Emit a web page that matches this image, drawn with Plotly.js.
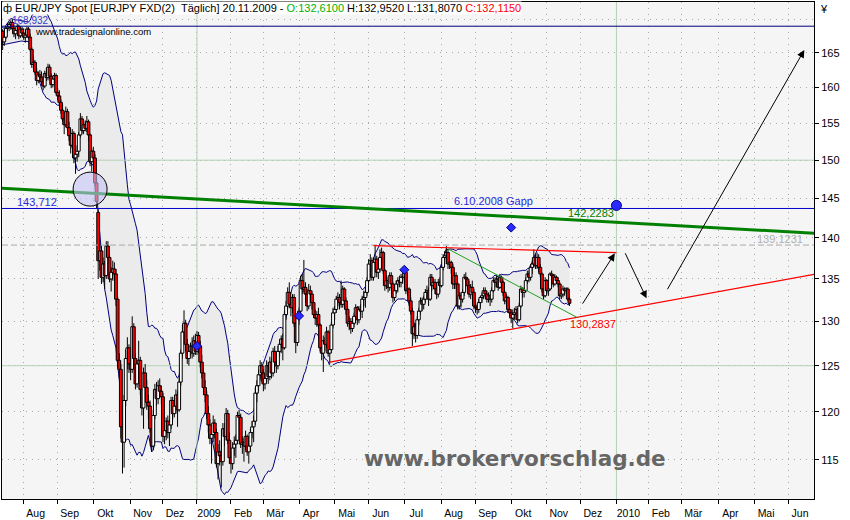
<!DOCTYPE html>
<html><head><meta charset="utf-8">
<script src="https://cdn.plot.ly/plotly-3.0.1.min.js"></script>
<style>html,body{margin:0;padding:0;background:#fff}#chart{width:850px;height:520px}</style>
</head><body><div id="chart"></div>
<script>
// ---------- DATA ----------
const firstDay = '2008-07-11';
const lastCalendarDay = '2010-07-31';
const holidays = ['2008-12-25','2008-12-26','2009-01-01','2009-12-25','2010-01-01'];

const opens = [
167.2,
167.6,168.2,166.6,167.3,168.6,
168.8,169.2,169.5,168.6,167.8,
168.3,168.9,167.5,168.5,167.9,
167.3,167.6,168.5,167.3,165.5,
163.3,163.6,162.2,161.0,161.8,
161.5,160.8,160.2,162.0,161.4,
162.9,161.6,160.4,161.2,161.7,
159.3,158.8,157.9,156.8,155.6,
154.8,156.6,154.4,153.3,152.0,
153.6,150.3,150.8,151.2,153.4,
155.6,154.0,154.8,154.3,155.2,
153.4,149.8,151.2,150.3,147.0,
143.2,137.2,138.4,135.2,136.8,
135.4,139.0,137.6,135.0,135.8,
136.2,135.6,132.6,125.6,124.6,
118.4,116.8,121.2,125.8,127.0,
125.2,124.6,129.4,125.8,123.0,
125.2,125.6,122.4,120.4,124.2,
122.6,121.0,120.6,118.2,116.4,
119.6,122.4,121.4,122.8,122.2,
121.6,117.4,118.0,119.0,117.8,
118.6,121.2,119.8,120.6,121.8,
120.2,123.2,126.4,128.8,129.8,
127.4,125.8,126.6,
127.2,126.4,127.8,126.6,
128.4,127.2,125.4,124.2,122.6,
121.8,119.8,118.6,117.2,117.6,
118.8,117.8,114.6,115.8,115.4,
114.8,118.2,117.4,119.8,117.0,
115.2,114.6,116.2,116.6,117.0,
119.6,119.4,116.6,116.8,116.4,
117.4,115.8,116.4,117.8,118.4,
119.0,122.0,122.8,124.0,125.0,
124.2,123.0,123.6,125.0,123.8,
125.4,124.2,126.6,125.4,125.0,
126.6,127.4,128.0,127.0,130.8,
131.8,133.4,132.0,131.6,132.8,
129.8,127.6,130.4,131.2,134.8,
133.8,134.0,133.2,131.8,133.6,
133.2,132.2,130.8,130.4,130.8,
129.6,127.0,126.4,127.8,127.4,
128.8,126.4,126.8,129.6,131.0,
131.4,132.6,132.8,132.2,132.0,
133.8,132.4,131.4,129.8,130.0,
129.2,129.8,130.6,131.6,130.2,
131.4,131.2,132.6,132.8,133.4,
134.8,136.8,137.2,135.2,137.0,
137.4,135.8,136.2,137.6,138.2,
136.0,134.2,134.8,134.0,135.4,
134.4,132.8,133.6,134.4,134.8,
134.6,135.2,135.2,135.8,133.6,
133.8,132.4,131.2,128.6,129.4,
128.4,130.2,131.2,132.4,132.0,
132.6,133.4,133.6,132.6,135.2,
134.2,134.6,133.8,133.2,134.6,
134.2,136.4,137.6,137.8,138.2,
136.8,137.0,136.4,134.4,135.4,
134.4,131.8,133.0,132.6,133.4,
135.2,135.0,134.2,133.2,134.0,
133.4,131.8,131.6,131.4,132.2,
132.8,133.0,133.6,133.2,132.6,
133.0,132.6,133.6,134.8,134.6,
135.0,134.0,135.2,134.6,133.4,
132.4,132.8,131.4,131.0,130.4,
130.8,131.0,131.4,130.2,131.8,
133.8,133.4,133.6,134.8,135.6,
135.2,136.4,136.8,137.6,136.6,
137.6,136.4,135.6,133.8,133.0,
134.8,133.6,133.8,135.6,135.4,
134.4,135.2,134.8,134.4,133.0,
133.2,133.8,133.6,133.8,132.61
];
const highs = [
168.3,
168.6,168.5,167.8,168.9,169.4,
169.6,169.8,170.0,169.0,168.5,
169.3,169.2,168.8,168.9,168.6,
168.0,168.9,168.8,167.8,165.8,
164.4,163.9,162.8,162.3,162.5,
162.3,161.5,162.4,162.8,163.4,
163.3,162.0,161.6,162.1,162.0,
159.9,159.6,158.3,157.6,156.4,
157.3,157.0,155.2,153.9,154.2,
153.9,151.6,152.0,153.8,156.4,
156.0,155.3,155.4,156.0,155.5,
153.6,151.6,151.8,150.8,148.0,
143.6,139.3,139.0,137.6,137.2,
139.6,139.6,138.0,136.4,137.2,
137.0,136.2,133.0,126.4,125.2,
119.4,121.8,126.8,128.2,127.4,
126.2,130.6,129.8,126.4,125.6,
127.8,126.0,123.0,124.8,125.2,
123.4,121.8,121.2,118.6,120.2,
123.0,123.2,123.4,123.6,122.8,
122.0,118.6,119.4,119.6,119.2,
121.6,121.6,121.0,122.4,122.2,
123.6,126.8,129.6,131.3,130.2,
128.0,127.2,127.6,
128.2,128.4,128.6,128.9,
128.8,127.8,126.2,124.8,123.4,
122.2,120.6,119.2,118.4,119.6,
119.2,118.2,116.6,117.0,116.0,
118.8,118.8,120.4,120.2,117.8,
115.8,116.8,117.4,117.6,120.0,
120.2,119.8,117.4,117.2,118.0,
117.6,117.0,118.2,119.0,119.6,
122.6,123.4,124.6,125.6,125.4,
124.6,124.2,125.6,125.4,126.0,
125.8,127.0,127.2,126.0,127.2,
128.0,128.4,128.6,131.2,132.4,
134.0,134.6,132.8,133.2,133.2,
130.2,130.8,131.6,135.4,135.6,
137.3,134.6,133.8,134.4,134.2,
133.6,132.8,131.4,131.2,131.6,
129.8,127.8,128.4,128.2,129.4,
129.0,127.2,130.0,131.6,131.8,
133.0,133.4,133.2,134.8,134.2,
134.0,132.8,131.8,130.6,130.4,
130.4,131.0,132.0,131.8,131.8,
132.0,133.0,133.6,134.0,135.2,
137.4,138.0,137.6,137.6,139.0,
137.8,136.8,138.6,138.8,138.4,
136.2,135.4,135.2,135.8,135.8,
134.6,134.0,134.8,135.2,135.4,
135.6,136.0,136.2,136.0,134.4,
134.0,132.8,131.6,129.8,129.8,
130.6,131.6,132.8,132.8,133.0,
133.8,134.2,134.0,135.6,135.6,
135.0,135.0,134.2,135.0,135.2,
136.8,138.0,138.4,139.0,138.6,
137.4,137.2,136.8,135.8,135.8,
134.6,133.4,133.4,133.8,135.6,
135.8,135.2,134.8,134.4,134.8,
133.8,132.6,132.0,132.6,133.0,
133.4,134.0,134.0,133.6,133.4,
133.2,134.0,135.2,135.2,135.4,
135.2,135.6,135.4,134.8,133.6,
133.2,133.0,131.8,131.4,131.4,
131.6,131.8,131.6,132.2,134.2,
134.0,134.0,135.2,136.0,136.0,
136.8,137.2,138.6,138.0,138.2,
138.0,136.8,135.8,134.4,135.2,
135.0,134.2,135.8,136.0,135.6,
135.6,135.4,135.2,134.6,133.8,
134.2,134.0,134.0,134.0,132.952
];
const lows = [
166.4,
167.0,165.4,166.0,167.0,168.0,
168.2,168.4,168.3,167.3,167.0,
167.8,167.0,167.2,167.6,166.9,
166.5,167.2,167.0,165.2,162.8,
162.6,161.8,160.3,160.6,161.0,
160.4,159.6,159.9,160.9,161.0,
161.2,159.9,160.0,160.6,159.0,
158.2,157.4,156.3,155.2,153.5,
154.5,154.0,152.6,150.9,151.6,
149.6,148.2,149.8,150.4,153.0,
153.6,153.5,153.9,153.8,152.6,
149.2,148.5,149.9,146.5,143.71,
135.0,136.0,134.4,134.6,133.8,
135.0,136.8,134.6,133.5,134.8,
134.8,131.8,124.8,123.6,117.2,
113.6,114.2,120.6,124.6,124.2,
123.4,124.2,125.0,122.4,122.6,
124.6,121.8,119.6,118.2,121.8,
120.2,119.2,117.8,115.8,116.0,
119.2,120.6,120.8,121.6,120.8,
116.8,116.6,117.0,117.2,116.4,
118.2,119.2,119.4,119.8,118.4,
120.0,122.8,125.8,127.6,126.6,
125.2,125.0,126.0,
125.8,126.0,126.2,126.2,
126.4,124.8,123.6,121.8,121.0,
119.2,117.8,116.6,114.6,116.8,
117.2,114.2,113.0,114.4,112.2,
114.4,116.4,117.0,116.6,114.6,
113.6,114.0,115.4,115.2,116.6,
118.6,116.2,115.6,114.8,116.0,
115.4,114.6,115.8,117.2,116.8,
118.6,121.0,122.2,123.4,123.2,
122.2,122.4,123.2,123.0,123.4,
123.6,123.8,124.8,124.2,124.6,
126.0,126.4,125.6,126.8,130.2,
131.4,131.6,130.6,131.0,129.4,
126.4,127.2,129.6,131.0,133.2,
133.4,132.2,131.2,131.4,132.4,
131.4,130.4,129.6,129.4,129.2,
126.6,125.6,124.3,126.6,127.0,
126.0,125.2,126.4,129.2,130.2,
131.0,131.8,131.4,131.6,131.6,
131.8,130.8,129.4,129.0,128.6,
128.8,129.4,130.2,129.6,129.8,
130.8,130.4,131.8,131.6,133.0,
134.6,135.8,134.8,134.8,136.2,
135.2,135.0,135.8,137.0,135.6,
133.6,133.8,133.4,133.6,133.8,
132.2,132.4,133.2,133.4,134.0,
134.0,134.4,134.8,133.2,133.0,
131.8,130.8,127.2,128.0,127.6,
128.0,129.6,130.8,131.2,131.4,
132.2,132.6,131.8,132.4,133.6,
133.8,133.2,132.6,132.8,133.4,
134.0,136.0,136.8,137.2,136.2,
136.2,135.6,133.8,133.8,133.8,
131.4,131.4,131.6,132.2,133.0,
134.6,133.8,132.8,132.6,133.0,
131.4,131.0,130.8,131.0,131.6,
132.2,132.6,132.8,132.2,132.2,
131.8,132.2,133.4,134.0,134.0,
133.6,133.8,134.2,133.0,132.0,
132.0,131.0,130.6,129.8,129.2,
130.2,130.2,129.8,130.0,131.6,
132.8,132.8,133.4,134.4,134.6,
134.8,135.6,136.4,136.2,136.2,
135.8,135.2,133.4,132.6,132.8,
133.2,133.0,133.6,134.8,134.0,
134.2,134.4,134.0,132.6,132.6,
132.8,133.0,133.2,132.4,131.807
];
const closes = [
167.6,
168.2,166.6,167.3,168.6,168.8,
169.2,169.5,168.6,167.8,168.3,
168.9,167.5,168.5,167.9,167.3,
167.6,168.5,167.3,165.5,163.3,
163.6,162.2,161.0,161.8,161.5,
160.8,160.2,162.0,161.4,162.9,
161.6,160.4,161.2,161.7,159.3,
158.8,157.9,156.8,155.6,154.8,
156.6,154.4,153.3,152.0,153.6,
150.3,150.8,151.2,153.4,155.6,
154.0,154.8,154.3,155.2,153.4,
149.8,151.2,150.3,147.0,144.6,
137.2,138.4,135.2,136.8,135.4,
139.0,137.6,135.0,135.8,136.2,
135.6,132.6,125.6,124.6,118.4,
116.8,121.2,125.8,127.0,125.2,
124.6,129.4,125.8,123.0,125.2,
125.6,122.4,120.4,124.2,122.6,
121.0,120.6,118.2,116.4,119.6,
122.4,121.4,122.8,122.2,121.6,
117.4,118.0,119.0,117.8,118.6,
121.2,119.8,120.6,121.8,120.2,
123.2,126.4,128.8,129.8,127.4,
125.8,126.6,127.2,
126.4,127.8,126.6,128.4,
127.2,125.4,124.2,122.6,121.8,
119.8,118.6,117.2,117.6,118.8,
117.8,114.6,115.8,115.4,114.8,
118.2,117.4,119.8,117.0,115.2,
114.6,116.2,116.6,117.0,119.6,
119.4,116.6,116.8,116.4,117.4,
115.8,116.4,117.8,118.4,119.0,
122.0,122.8,124.0,125.0,124.2,
123.0,123.6,125.0,123.8,125.4,
124.2,126.6,125.4,125.0,126.6,
127.4,128.0,127.0,130.8,131.8,
133.4,132.0,131.6,132.8,129.8,
127.6,130.4,131.2,134.8,133.8,
134.0,133.2,131.8,133.6,133.2,
132.2,130.8,130.4,130.8,129.6,
127.0,126.4,127.8,127.4,128.8,
126.4,126.8,129.6,131.0,131.4,
132.6,132.8,132.2,132.0,133.8,
132.4,131.4,129.8,130.0,129.2,
129.8,130.6,131.6,130.2,131.4,
131.2,132.6,132.8,133.4,134.8,
136.8,137.2,135.2,137.0,137.4,
135.8,136.2,137.6,138.2,136.0,
134.2,134.8,134.0,135.4,134.4,
132.8,133.6,134.4,134.8,134.6,
135.2,135.2,135.8,133.6,133.8,
132.4,131.2,128.6,129.4,128.4,
130.2,131.2,132.4,132.0,132.6,
133.4,133.6,132.6,135.2,134.2,
134.6,133.8,133.2,134.6,134.2,
136.4,137.6,137.8,138.2,136.8,
137.0,136.4,134.4,135.4,134.4,
131.8,133.0,132.6,133.4,135.2,
135.0,134.2,133.2,134.0,133.4,
131.8,131.6,131.4,132.2,132.8,
133.0,133.6,133.2,132.6,133.0,
132.6,133.6,134.8,134.6,135.0,
134.0,135.2,134.6,133.4,132.4,
132.8,131.4,131.0,130.4,130.8,
131.0,131.4,130.2,131.8,133.8,
133.4,133.6,134.8,135.6,135.2,
136.4,136.8,137.6,136.6,137.6,
136.4,135.6,133.8,133.0,134.8,
133.6,133.8,135.6,135.4,134.4,
135.2,134.8,134.4,133.0,133.2,
133.8,133.6,133.8,132.61,132.115
];

// axis ticks
const monthTickDates = ['2008-08-01','2008-09-01','2008-10-01','2008-11-03','2008-12-01','2009-01-02','2009-02-02','2009-03-02','2009-04-01','2009-05-01','2009-06-01','2009-07-01','2009-08-03','2009-09-01','2009-10-01','2009-11-02','2009-12-01','2010-01-04','2010-02-01','2010-03-01','2010-04-01','2010-05-03','2010-06-01'];
const monthTickLabels = ['Aug','Sep','Okt','Nov','Dez','2009','Feb','Mär','Apr','Mai','Jun','Jul','Aug','Sep','Okt','Nov','Dez','2010','Feb','Mär','Apr','Mai','Jun'];
const priceTicks = [115,120,125,130,135,140,145,150,155,160,165];
const yearLineDates = ['2009-01-02','2010-01-04'];
const solidPriceLines = [125,150];
const viewStart = '2008-07-14 14:24', viewEnd = '2010-06-23';

// drawn lines / markers
const topLevel = 168.932, gapLevel = 143.712, dashLevel = 139.1231;
const longTrendX = [viewStart, viewEnd], longTrendY = [146.3, 140.6];
const resistX = ['2009-06-04','2010-01-04'], resistY = [139.05, 138.2];
const supportX = ['2009-04-28', viewEnd], supportY = [125.4, 135.55];
const downX = ['2009-08-07','2009-11-26 10:00'], downY = [138.65, 130.5];
const pivotX = ['2009-01-02','2009-04-01','2009-07-01','2009-10-01'], pivotY = [127.2,130.65,136.1,141.3];
const bigPivotX = ['2010-01-04'], bigPivotY = [144.1];
const circleX = ['2008-09-29'], circleY = [146.2];
const arrowTailX = ['2009-12-01 12:00','2010-01-11','2010-02-16'], arrowTailY = [131.9,138.3,133.6];
const arrowHeadX = ['2009-12-31','2010-01-28 14:00','2010-06-15'], arrowHeadY = [138.1,132.7,165.4];

// ---------- BUILD ----------
// trading-day calendar: one slot per weekday (holidays skipped), like the bar axis of the original
const calendar = [];
(function(){
  let t = Date.parse(firstDay + 'T00:00:00Z');
  const end = Date.parse(lastCalendarDay + 'T00:00:00Z');
  while (t <= end) {
    const d = new Date(t), s = d.toISOString().slice(0,10), wd = d.getUTCDay();
    if (wd !== 0 && wd !== 6 && holidays.indexOf(s) < 0) calendar.push(s);
    t += 86400000;
  }
})();
const calIndex = {}; calendar.forEach((d,i) => { calIndex[d] = i; });
function xi(s) {
  const parts = s.split(' ');
  let t = Date.parse(parts[0] + 'T00:00:00Z');
  let k = new Date(t).toISOString().slice(0,10);
  while (calIndex[k] === undefined) { t += 86400000; k = new Date(t).toISOString().slice(0,10); }
  let i = calIndex[k];
  if (parts[1]) { const hm = parts[1].split(':').map(Number); i += (hm[0] + hm[1]/60) / 24; }
  return i;
}
const dates = calendar.slice(0, closes.length);
const xs = dates.map(xi);

const upper = [], lower = [];
for (let i = 0; i < closes.length; i++) {
  const w = closes.slice(Math.max(0, i - 19), i + 1);
  const m = w.reduce((a,b)=>a+b,0)/w.length;
  const sd = Math.sqrt(w.reduce((a,b)=>a+(b-m)*(b-m),0)/w.length);
  upper.push(m + 2*sd); lower.push(m - 2*sd);
}

const xRange = [xi(viewStart), xi(viewEnd)];
const yLo = 111.06, yHi = 172.6;
const yRange = [Math.log10(yLo), Math.log10(yHi)];
const FONT = 'Liberation Sans, Arial, sans-serif';

const traces = [];
// base subplot: Bollinger band, solid grid lines, wicks
traces.push({type:'scatter', mode:'lines', x:xs, y:upper, line:{color:'#000080', width:1}, hoverinfo:'skip'});
traces.push({type:'scatter', mode:'lines', x:xs, y:lower, line:{color:'#000080', width:1}, fill:'tonexty', fillcolor:'#ebebeb', hoverinfo:'skip'});
const gx = [], gy = [];
yearLineDates.forEach(d => { const v = xi(d); gx.push(v, v, null); gy.push(yLo, yHi, null); });
solidPriceLines.forEach(v => { gx.push(xRange[0], xRange[1], null); gy.push(v, v, null); });
traces.push({type:'scatter', mode:'lines', x:gx, y:gy, line:{color:'#b4d2b4', width:1}, hoverinfo:'skip'});
const wx = [], wy = [];
xs.forEach((x, i) => { wx.push(x, x, null); wy.push(lows[i], highs[i], null); });
traces.push({type:'scatter', mode:'lines', x:wx, y:wy, line:{color:'#000000', width:1}, hoverinfo:'skip'});

// overlay subplot: candle bodies and drawings
const bodyBase = opens.map((o,i) => Math.min(o, closes[i]));
const bodyLen = opens.map((o,i) => Math.max(Math.abs(closes[i] - o), 0.05));
const bodyColor = opens.map((o,i) => closes[i] >= o ? '#ffffff' : '#ff0000');
traces.push({type:'bar', x:xs, base:bodyBase, y:bodyLen, width:1.75, xaxis:'x2', yaxis:'y2',
  marker:{color:bodyColor, line:{color:'#000000', width:1}}, hoverinfo:'skip'});
const L = (x,y,color,width,dash) => ({type:'scatter', mode:'lines', x:x.map(xi), y:y, xaxis:'x2', yaxis:'y2', line:{color:color, width:width, dash:dash||'solid'}, hoverinfo:'skip'});
traces.push(L([viewStart, viewEnd],[topLevel,topLevel],'#000080',1));
traces.push(L([viewStart, viewEnd],[gapLevel,gapLevel],'#0000cc',1));
traces.push(L([viewStart, viewEnd],[dashLevel,dashLevel],'#a8a8a8',1,'6px,3px'));
traces.push(L(longTrendX,longTrendY,'#008000',3));
traces.push(L(resistX,resistY,'#ff0000',1.2));
traces.push(L(supportX,supportY,'#ff0000',1.2));
traces.push(L(downX,downY,'#20a020',1));
traces.push({type:'scatter', mode:'markers', x:circleX.map(xi), y:circleY, xaxis:'x2', yaxis:'y2',
  marker:{size:34, color:'rgba(195,195,245,0.6)', line:{color:'#000000', width:1}}, hoverinfo:'skip'});
traces.push({type:'scatter', mode:'markers', x:pivotX.map(xi), y:pivotY, xaxis:'x2', yaxis:'y2',
  marker:{symbol:'diamond', size:7, color:'#2a2aff', line:{color:'#000080', width:1}}, hoverinfo:'skip'});
traces.push({type:'scatter', mode:'markers', x:bigPivotX.map(xi), y:bigPivotY, xaxis:'x2', yaxis:'y2',
  marker:{symbol:'circle', size:10, color:'#2a2aff', line:{color:'#000080', width:1}}, hoverinfo:'skip'});

// text annotations (pixel positions -> paper)
const PX = x => (x - 2) / 812, PY = y => 1 - (y - 2) / 497;
const T = (text, x, y, color, size, extra) => Object.assign({xref:'paper', yref:'paper', x:PX(x), y:PY(y), xanchor:'left', yanchor:'middle', text:text, showarrow:false, font:{family:FONT, size:size||11, color:color}}, extra||{});
const ann = [
  T('ф EUR/JPY Spot [EURJPY FXD(2)\u00a0\u00a0Täglich] 20.11.2009 - <span style="color:#00b000">O:132,6100</span> H:132,9520 L:131,8070 <span style="color:#ff0000">C:132,1150</span>', 2, 8, '#000000', 11, {bgcolor:'#ffffff', borderpad:0}),
  T('168,932', 10, 20.5, '#3a3ad0', 10),
  T('www.tradesignalonline.com', 33, 31.5, '#000000', 9.5),
  T('143,712', 15, 202, '#2a2ae0', 11),
  T('6.10.2008 Gapp', 452, 201, '#2a2ae0', 11),
  T('142,2283', 566, 213, '#008000', 11),
  T('139,1231', 755, 239, '#b0b0b0', 11),
  T('130,2837', 568, 324, '#ff0000', 11),
  T('www.brokervorschlag.de', 362, 458, '#666666', 21.5, {font:{family:'DejaVu Sans, sans-serif', size:21.5, color:'#666666', weight:'bold'}}),
  T('¥', 818, 9, '#000000', 11)
];
arrowHeadX.forEach((hx, i) => {
  ann.push({xref:'x', yref:'y', x:xi(hx), y:Math.log10(arrowHeadY[i]), axref:'x', ayref:'y', ax:xi(arrowTailX[i]), ay:Math.log10(arrowTailY[i]),
    showarrow:true, arrowhead:2, arrowsize:1.5, arrowwidth:1, arrowcolor:'#000000', text:''});
});

const axisCommon = {showline:true, mirror:true, linecolor:'#000000', linewidth:1, zeroline:false, fixedrange:true};
const layout = {
  width:850, height:520, margin:{l:2, r:36, t:2, b:21},
  paper_bgcolor:'#ffffff', plot_bgcolor:'#f5f5f5', showlegend:false, dragmode:false, barmode:'overlay',
  xaxis: Object.assign({}, axisCommon, {type:'linear', range:xRange, tickmode:'array', tickvals:monthTickDates.map(xi), ticktext:monthTickLabels,
    ticks:'outside', ticklen:4, tickcolor:'#000000', showgrid:true, gridcolor:'#a8a8a8', griddash:'1px,5px', gridwidth:1,
    tickfont:{family:FONT, size:10.5, color:'#000000'}, ticklabelshift:12}),
  yaxis: Object.assign({}, axisCommon, {type:'log', range:yRange, side:'right', tickmode:'array', tickvals:priceTicks, ticktext:priceTicks.map(String),
    ticks:'outside', ticklen:4, tickcolor:'#000000', showgrid:true, gridcolor:'#a8a8a8', griddash:'1px,5px', gridwidth:1,
    minor:{tickmode:'array', tickvals:[170], showgrid:true, gridcolor:'#a8a8a8', griddash:'1px,5px', ticklen:0},
    tickfont:{family:FONT, size:11, color:'#000000'}}),
  xaxis2: {type:'linear', range:xRange, overlaying:'x', anchor:'y2', visible:false, fixedrange:true},
  yaxis2: {type:'log', range:yRange, overlaying:'y', anchor:'x2', side:'right', visible:false, fixedrange:true},
  annotations: ann
};
Plotly.newPlot('chart', traces, layout, {staticPlot:true, displayModeBar:false});
</script>
</body></html>
